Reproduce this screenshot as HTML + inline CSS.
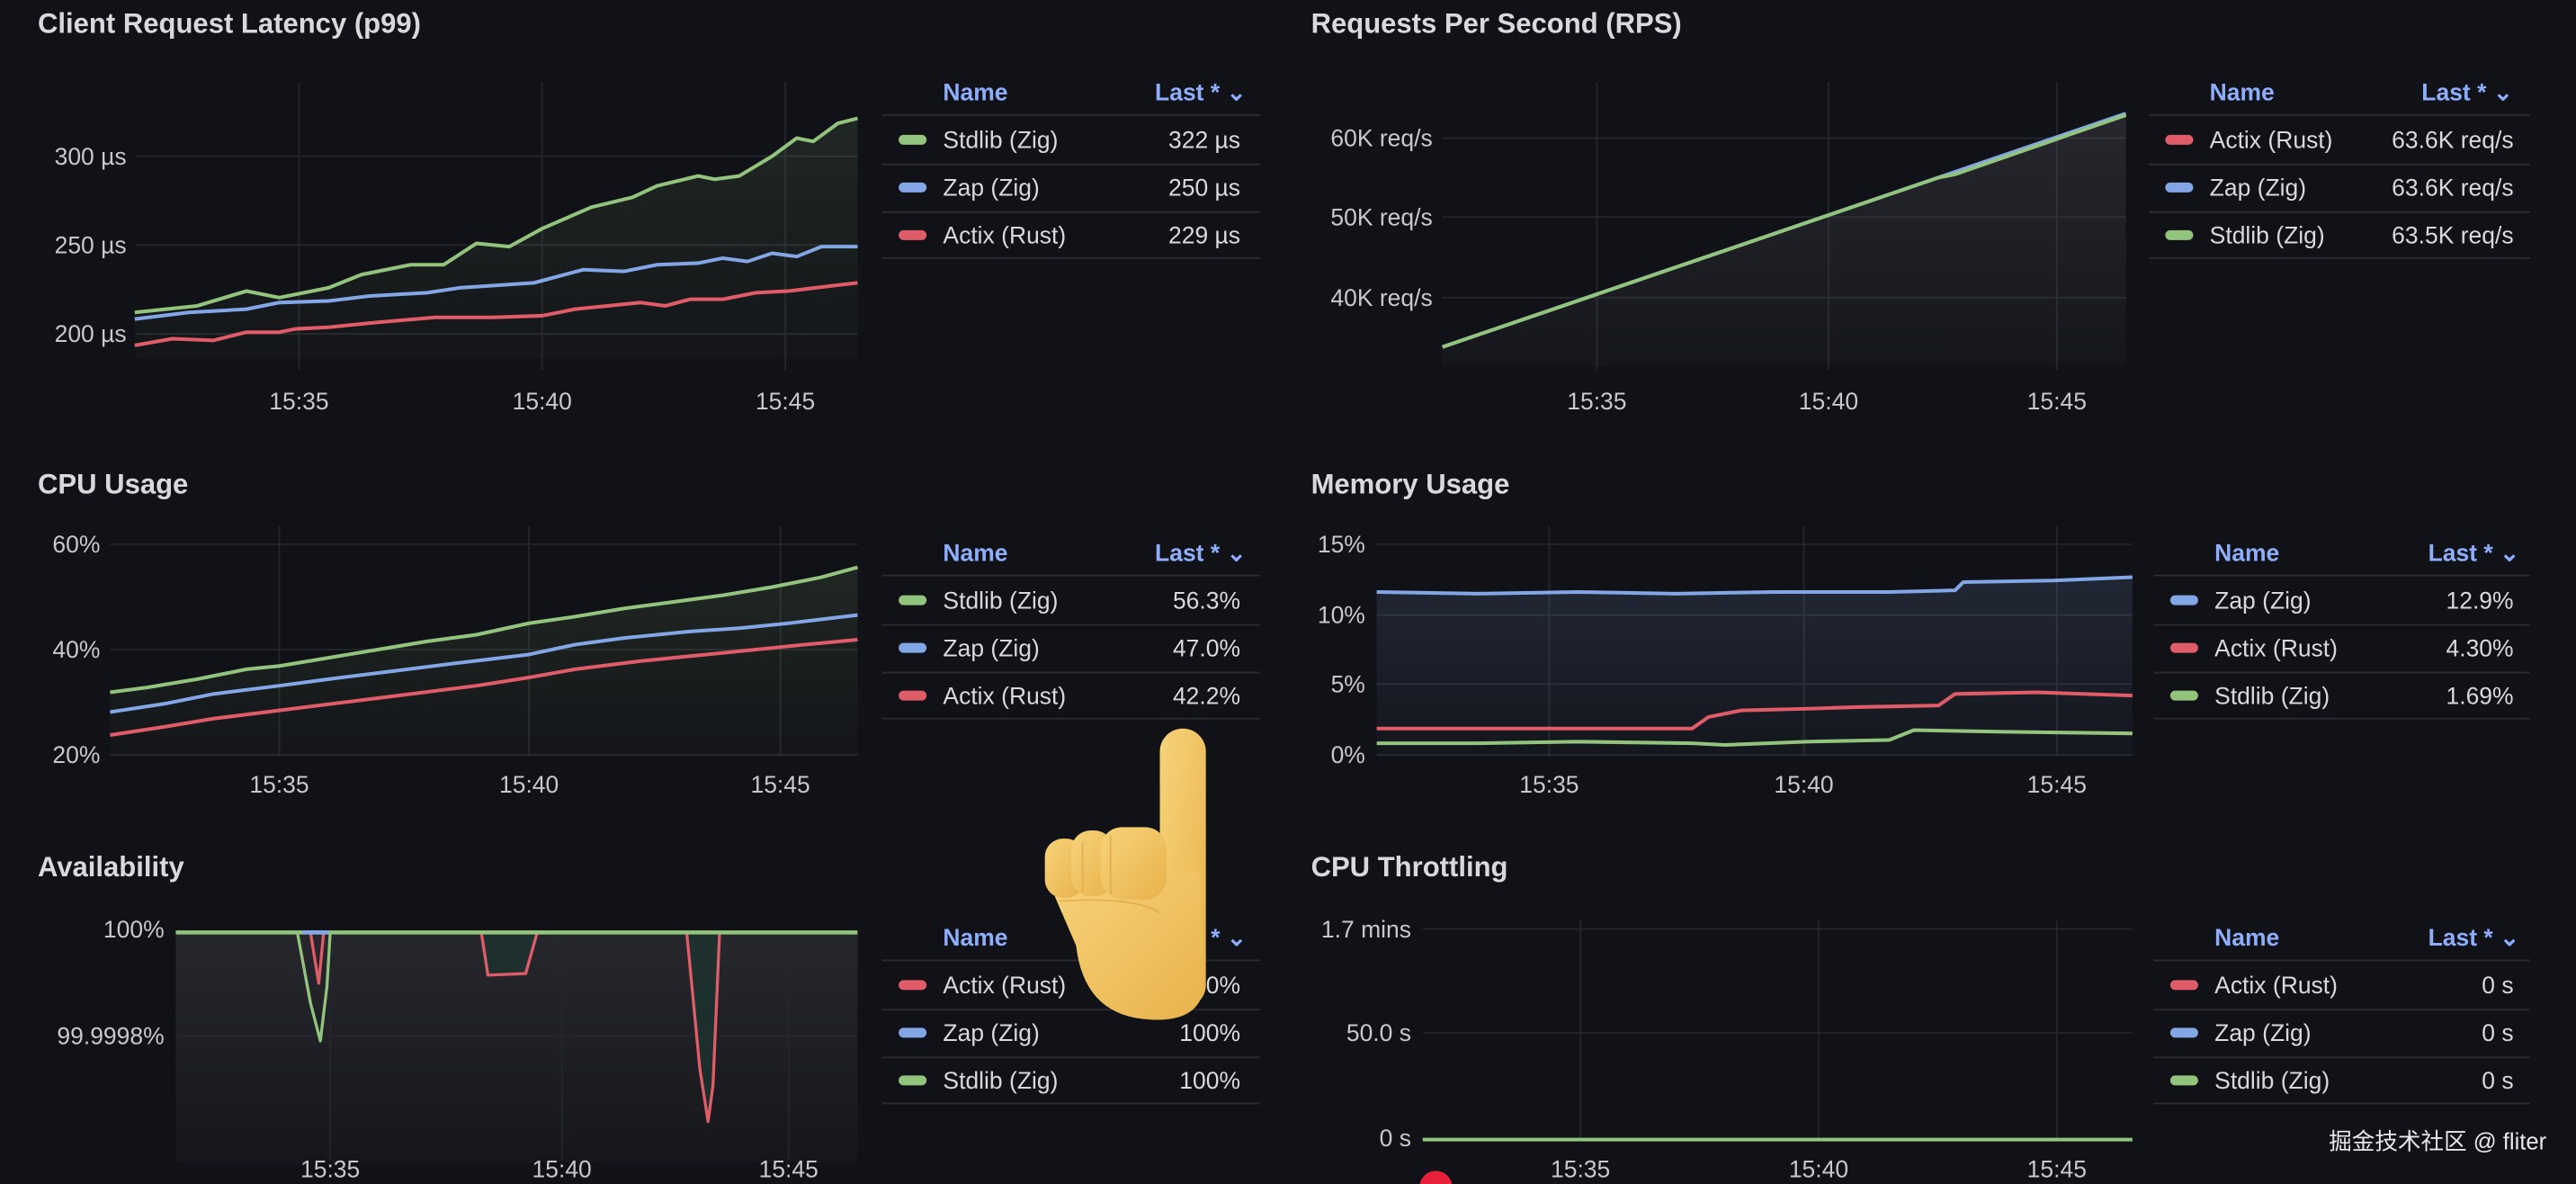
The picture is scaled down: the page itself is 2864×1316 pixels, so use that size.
<!DOCTYPE html>
<html><head><meta charset="utf-8"><style>
html,body{margin:0;padding:0;background:#111217;}
svg{display:block}
text{font-family:"Liberation Sans","Noto Sans CJK SC",sans-serif;}
.t{fill:#d8d9da;font-size:17px;font-weight:bold}
.ax{fill:#c7c8cc;font-size:14.5px}
.lg{fill:#d8d9da;font-size:14.5px}
.hd{fill:#8eaefc;font-size:14.5px;font-weight:bold}
.g{stroke:#24262d;stroke-width:1}
.sep{stroke:#2a2c33;stroke-width:1}
</style></head><body>
<svg width="2864" height="1316" viewBox="0 0 1568 720" preserveAspectRatio="none" xmlns="http://www.w3.org/2000/svg">
<defs>
<linearGradient id="fg" x1="0" y1="0" x2="0" y2="1"><stop offset="0" stop-color="#93c47d" stop-opacity="0.12"/><stop offset="1" stop-color="#93c47d" stop-opacity="0.02"/></linearGradient>
<linearGradient id="fgr" x1="0" y1="0" x2="0" y2="1"><stop offset="0" stop-color="#8a8a90" stop-opacity="0.18"/><stop offset="1" stop-color="#8a8a90" stop-opacity="0.04"/></linearGradient>
<linearGradient id="fb" x1="0" y1="0" x2="0" y2="1"><stop offset="0" stop-color="#82a6e6" stop-opacity="0.14"/><stop offset="1" stop-color="#82a6e6" stop-opacity="0.03"/></linearGradient>
<linearGradient id="hand" x1="0" y1="0" x2="1" y2="1"><stop offset="0" stop-color="#f7d37a"/><stop offset="1" stop-color="#e8b24a"/></linearGradient>
</defs>
<rect width="1568" height="720" fill="#111217"/>

<!-- Panel 1 -->
<text class="t" x="23" y="20">Client Request Latency (p99)</text>
<g class="g"><line x1="83" y1="95" x2="522" y2="95"/><line x1="83" y1="149" x2="522" y2="149"/><line x1="83" y1="203" x2="522" y2="203"/>
<line x1="182" y1="50" x2="182" y2="225"/><line x1="330" y1="50" x2="330" y2="225"/><line x1="478" y1="50" x2="478" y2="225"/></g>
<text class="ax" x="77" y="100" text-anchor="end">300 µs</text><text class="ax" x="77" y="154" text-anchor="end">250 µs</text><text class="ax" x="77" y="208" text-anchor="end">200 µs</text>
<text class="ax" x="182" y="249" text-anchor="middle">15:35</text><text class="ax" x="330" y="249" text-anchor="middle">15:40</text><text class="ax" x="478" y="249" text-anchor="middle">15:45</text>
<polygon fill="url(#fg)" points="82,190 120,186 150,177 170,181 200,175 220,167 250,161 270,161 290,148 310,150 330,139 360,126 385,120 400,113 425,107 435,109 450,107 470,95 485,84 495,86 510,75 522,72 522,218 82,218"/>
<g fill="none" stroke-width="2.2" stroke-linejoin="round">
<polyline stroke="#93c47d" points="82,190 120,186 150,177 170,181 200,175 220,167 250,161 270,161 290,148 310,150 330,139 360,126 385,120 400,113 425,107 435,109 450,107 470,95 485,84 495,86 510,75 522,72"/>
<polyline stroke="#82a6e6" points="82,194 115,190 150,188 170,184 200,183 225,180 260,178 280,175 325,172 355,164 380,165 400,161 425,160 440,157 455,159 470,154 485,156 500,150 522,150"/>
<polyline stroke="#e05c68" points="82,210 105,206 130,207 150,202 170,202 180,200 200,199 230,196 265,193 300,193 330,192 350,188 390,184 405,186 420,182 440,182 460,178 480,177 505,174 522,172"/>
</g>
<text class="hd" x="574" y="61">Name</text><text class="hd" x="703" y="61">Last * ⌄</text>
<g class="sep"><line x1="537" y1="70" x2="767" y2="70"/><line x1="537" y1="100" x2="767" y2="100"/><line x1="537" y1="129" x2="767" y2="129"/><line x1="537" y1="157" x2="767" y2="157"/></g>
<rect x="547" y="82" width="17" height="6" rx="3" fill="#93c47d"/><text class="lg" x="574" y="90">Stdlib (Zig)</text><text class="lg" x="755" y="90" text-anchor="end">322 µs</text>
<rect x="547" y="111" width="17" height="6" rx="3" fill="#82a6e6"/><text class="lg" x="574" y="119">Zap (Zig)</text><text class="lg" x="755" y="119" text-anchor="end">250 µs</text>
<rect x="547" y="140" width="17" height="6" rx="3" fill="#e05c68"/><text class="lg" x="574" y="148">Actix (Rust)</text><text class="lg" x="755" y="148" text-anchor="end">229 µs</text>

<!-- Panel 2 -->
<text class="t" x="798" y="20">Requests Per Second (RPS)</text>
<g class="g"><line x1="878" y1="84" x2="1294" y2="84"/><line x1="878" y1="132" x2="1294" y2="132"/><line x1="878" y1="181" x2="1294" y2="181"/>
<line x1="972" y1="50" x2="972" y2="225"/><line x1="1113" y1="50" x2="1113" y2="225"/><line x1="1252" y1="50" x2="1252" y2="225"/></g>
<text class="ax" x="872" y="89" text-anchor="end">60K req/s</text><text class="ax" x="872" y="137" text-anchor="end">50K req/s</text><text class="ax" x="872" y="186" text-anchor="end">40K req/s</text>
<text class="ax" x="972" y="249" text-anchor="middle">15:35</text><text class="ax" x="1113" y="249" text-anchor="middle">15:40</text><text class="ax" x="1252" y="249" text-anchor="middle">15:45</text>
<polygon fill="url(#fgr)" points="878,211 1294,69 1294,222 878,222"/>
<polyline fill="none" stroke="#82a6e6" stroke-width="2.2" points="878,211 1294,69"/>
<polyline fill="none" stroke="#93c47d" stroke-width="2.2" points="878,211 1180,108 1190,106 1294,70"/>
<text class="hd" x="1345" y="61">Name</text><text class="hd" x="1474" y="61">Last * ⌄</text>
<g class="sep"><line x1="1308" y1="70" x2="1540" y2="70"/><line x1="1308" y1="100" x2="1540" y2="100"/><line x1="1308" y1="129" x2="1540" y2="129"/><line x1="1308" y1="157" x2="1540" y2="157"/></g>
<rect x="1318" y="82" width="17" height="6" rx="3" fill="#e05c68"/><text class="lg" x="1345" y="90">Actix (Rust)</text><text class="lg" x="1530" y="90" text-anchor="end">63.6K req/s</text>
<rect x="1318" y="111" width="17" height="6" rx="3" fill="#82a6e6"/><text class="lg" x="1345" y="119">Zap (Zig)</text><text class="lg" x="1530" y="119" text-anchor="end">63.6K req/s</text>
<rect x="1318" y="140" width="17" height="6" rx="3" fill="#93c47d"/><text class="lg" x="1345" y="148">Stdlib (Zig)</text><text class="lg" x="1530" y="148" text-anchor="end">63.5K req/s</text>

<!-- Panel 3 CPU -->
<text class="t" x="23" y="300">CPU Usage</text>
<g class="g"><line x1="67" y1="331" x2="522" y2="331"/><line x1="67" y1="395" x2="522" y2="395"/><line x1="67" y1="459" x2="522" y2="459"/>
<line x1="170" y1="320" x2="170" y2="460"/><line x1="322" y1="320" x2="322" y2="460"/><line x1="475" y1="320" x2="475" y2="460"/></g>
<text class="ax" x="61" y="336" text-anchor="end">60%</text><text class="ax" x="61" y="400" text-anchor="end">40%</text><text class="ax" x="61" y="464" text-anchor="end">20%</text>
<text class="ax" x="170" y="482" text-anchor="middle">15:35</text><text class="ax" x="322" y="482" text-anchor="middle">15:40</text><text class="ax" x="475" y="482" text-anchor="middle">15:45</text>
<polygon fill="url(#fg)" points="67,421 90,418 120,413 150,407 170,405 200,400 230,395 260,390 290,386 322,379 350,375 380,370 410,366 440,362 470,357 500,351 522,345 522,460 67,460"/>
<g fill="none" stroke-width="2.2" stroke-linejoin="round">
<polyline stroke="#93c47d" points="67,421 90,418 120,413 150,407 170,405 200,400 230,395 260,390 290,386 322,379 350,375 380,370 410,366 440,362 470,357 500,351 522,345"/>
<polyline stroke="#82a6e6" points="67,433 100,428 130,422 170,417 200,413 240,408 280,403 322,398 350,392 380,388 420,384 450,382 480,379 522,374"/>
<polyline stroke="#e05c68" points="67,447 100,442 130,437 170,432 210,427 250,422 290,417 322,412 350,407 390,402 430,398 460,395 490,392 522,389"/>
</g>
<text class="hd" x="574" y="341">Name</text><text class="hd" x="703" y="341">Last * ⌄</text>
<g class="sep"><line x1="537" y1="350" x2="767" y2="350"/><line x1="537" y1="380" x2="767" y2="380"/><line x1="537" y1="409" x2="767" y2="409"/><line x1="537" y1="437" x2="767" y2="437"/></g>
<rect x="547" y="362" width="17" height="6" rx="3" fill="#93c47d"/><text class="lg" x="574" y="370">Stdlib (Zig)</text><text class="lg" x="755" y="370" text-anchor="end">56.3%</text>
<rect x="547" y="391" width="17" height="6" rx="3" fill="#82a6e6"/><text class="lg" x="574" y="399">Zap (Zig)</text><text class="lg" x="755" y="399" text-anchor="end">47.0%</text>
<rect x="547" y="420" width="17" height="6" rx="3" fill="#e05c68"/><text class="lg" x="574" y="428">Actix (Rust)</text><text class="lg" x="755" y="428" text-anchor="end">42.2%</text>

<!-- Panel 4 Memory -->
<text class="t" x="798" y="300">Memory Usage</text>
<g class="g"><line x1="838" y1="331" x2="1298" y2="331"/><line x1="838" y1="374" x2="1298" y2="374"/><line x1="838" y1="416" x2="1298" y2="416"/><line x1="838" y1="459" x2="1298" y2="459"/>
<line x1="943" y1="320" x2="943" y2="460"/><line x1="1098" y1="320" x2="1098" y2="460"/><line x1="1252" y1="320" x2="1252" y2="460"/></g>
<text class="ax" x="831" y="336" text-anchor="end">15%</text><text class="ax" x="831" y="379" text-anchor="end">10%</text><text class="ax" x="831" y="421" text-anchor="end">5%</text><text class="ax" x="831" y="464" text-anchor="end">0%</text>
<text class="ax" x="943" y="482" text-anchor="middle">15:35</text><text class="ax" x="1098" y="482" text-anchor="middle">15:40</text><text class="ax" x="1252" y="482" text-anchor="middle">15:45</text>
<polygon fill="url(#fb)" points="838,360 900,361 960,360 1020,361 1080,360 1150,360 1190,359 1195,354 1250,353 1298,351 1298,460 838,460"/>
<g fill="none" stroke-width="2.2" stroke-linejoin="round">
<polyline stroke="#82a6e6" points="838,360 900,361 960,360 1020,361 1080,360 1150,360 1190,359 1195,354 1250,353 1298,351"/>
<polyline stroke="#e05c68" points="838,443 920,443 1030,443 1040,436 1060,432 1100,431 1130,430 1180,429 1190,422 1240,421 1298,423"/>
<polyline stroke="#93c47d" points="838,452 900,452 960,451 1030,452 1050,453 1100,451 1150,450 1165,444 1220,445 1298,446"/>
</g>
<text class="hd" x="1348" y="341">Name</text><text class="hd" x="1478" y="341">Last * ⌄</text>
<g class="sep"><line x1="1311" y1="350" x2="1540" y2="350"/><line x1="1311" y1="380" x2="1540" y2="380"/><line x1="1311" y1="409" x2="1540" y2="409"/><line x1="1311" y1="437" x2="1540" y2="437"/></g>
<rect x="1321" y="362" width="17" height="6" rx="3" fill="#82a6e6"/><text class="lg" x="1348" y="370">Zap (Zig)</text><text class="lg" x="1530" y="370" text-anchor="end">12.9%</text>
<rect x="1321" y="391" width="17" height="6" rx="3" fill="#e05c68"/><text class="lg" x="1348" y="399">Actix (Rust)</text><text class="lg" x="1530" y="399" text-anchor="end">4.30%</text>
<rect x="1321" y="420" width="17" height="6" rx="3" fill="#93c47d"/><text class="lg" x="1348" y="428">Stdlib (Zig)</text><text class="lg" x="1530" y="428" text-anchor="end">1.69%</text>

<!-- Panel 5 Availability -->
<text class="t" x="23" y="533">Availability</text>
<rect x="107" y="567" width="415" height="140" fill="url(#fgr)"/>
<g class="g"><line x1="107" y1="630" x2="522" y2="630"/>
<line x1="201" y1="567" x2="201" y2="705"/><line x1="342" y1="567" x2="342" y2="705"/><line x1="480" y1="567" x2="480" y2="705"/></g>
<text class="ax" x="100" y="570" text-anchor="end">100%</text><text class="ax" x="100" y="635" text-anchor="end">99.9998%</text>
<text class="ax" x="201" y="716" text-anchor="middle">15:35</text><text class="ax" x="342" y="716" text-anchor="middle">15:40</text><text class="ax" x="480" y="716" text-anchor="middle">15:45</text>
<polygon fill="#1b3330" opacity="0.8" points="293,567 297,593 320,592 327,567"/>
<polygon fill="#1b3330" opacity="0.8" points="418,567 428,660 431,682 434,660 438,567"/>
<g fill="none" stroke-width="1.8" stroke-linejoin="round">
<polyline stroke="#e05c68" points="189,567 194,598 197,567"/>
<polyline stroke="#e05c68" points="293,567 297,593 320,592 327,567"/>
<polyline stroke="#e05c68" points="418,567 426,650 431,682 434,660 438,567"/>
<polyline stroke="#93c47d" points="181,567 189,610 195,633 199,600 201,567"/>
</g>
<line x1="107" y1="567" x2="522" y2="567" stroke="#93c47d" stroke-width="2.5"/>
<line x1="184" y1="567" x2="200" y2="567" stroke="#82a6e6" stroke-width="2.5"/>
<text class="hd" x="574" y="575">Name</text><text class="hd" x="737" y="575">* ⌄</text>
<g class="sep"><line x1="537" y1="584" x2="767" y2="584"/><line x1="537" y1="614" x2="767" y2="614"/><line x1="537" y1="643" x2="767" y2="643"/><line x1="537" y1="671" x2="767" y2="671"/></g>
<rect x="547" y="596" width="17" height="6" rx="3" fill="#e05c68"/><text class="lg" x="574" y="604">Actix (Rust)</text><text class="lg" x="755" y="604" text-anchor="end">100%</text>
<rect x="547" y="625" width="17" height="6" rx="3" fill="#82a6e6"/><text class="lg" x="574" y="633">Zap (Zig)</text><text class="lg" x="755" y="633" text-anchor="end">100%</text>
<rect x="547" y="654" width="17" height="6" rx="3" fill="#93c47d"/><text class="lg" x="574" y="662">Stdlib (Zig)</text><text class="lg" x="755" y="662" text-anchor="end">100%</text>

<!-- Panel 6 CPU Throttling -->
<text class="t" x="798" y="533">CPU Throttling</text>
<g class="g"><line x1="866" y1="565" x2="1298" y2="565"/><line x1="866" y1="628" x2="1298" y2="628"/>
<line x1="962" y1="560" x2="962" y2="693"/><line x1="1107" y1="560" x2="1107" y2="693"/><line x1="1252" y1="560" x2="1252" y2="693"/></g>
<text class="ax" x="859" y="570" text-anchor="end">1.7 mins</text><text class="ax" x="859" y="633" text-anchor="end">50.0 s</text><text class="ax" x="859" y="697" text-anchor="end">0 s</text>
<text class="ax" x="962" y="716" text-anchor="middle">15:35</text><text class="ax" x="1107" y="716" text-anchor="middle">15:40</text><text class="ax" x="1252" y="716" text-anchor="middle">15:45</text>
<line x1="866" y1="693" x2="1298" y2="693" stroke="#93c47d" stroke-width="2.2"/>
<text class="hd" x="1348" y="575">Name</text><text class="hd" x="1478" y="575">Last * ⌄</text>
<g class="sep"><line x1="1311" y1="584" x2="1540" y2="584"/><line x1="1311" y1="614" x2="1540" y2="614"/><line x1="1311" y1="643" x2="1540" y2="643"/><line x1="1311" y1="671" x2="1540" y2="671"/></g>
<rect x="1321" y="596" width="17" height="6" rx="3" fill="#e05c68"/><text class="lg" x="1348" y="604">Actix (Rust)</text><text class="lg" x="1530" y="604" text-anchor="end">0 s</text>
<rect x="1321" y="625" width="17" height="6" rx="3" fill="#82a6e6"/><text class="lg" x="1348" y="633">Zap (Zig)</text><text class="lg" x="1530" y="633" text-anchor="end">0 s</text>
<rect x="1321" y="654" width="17" height="6" rx="3" fill="#93c47d"/><text class="lg" x="1348" y="662">Stdlib (Zig)</text><text class="lg" x="1530" y="662" text-anchor="end">0 s</text>

<text x="1550" y="699" text-anchor="end" style="font-size:14px;fill:#e8e8e8">掘金技术社区 @ fliter</text>
<circle cx="874" cy="722" r="10" fill="#e8203a"/>

<!-- hand -->
<g fill="url(#hand)">
<rect x="706" y="443" width="28" height="170" rx="14"/>
<path d="M642,545 Q640,532 660,530 L730,530 L733,600 Q730,622 700,620 Q660,618 655,575 Z"/>
<rect x="636" y="510" width="24" height="36" rx="11"/>
<rect x="652" y="505" width="26" height="40" rx="12"/>
<rect x="670" y="503" width="40" height="44" rx="13"/>
</g>
<g fill="none" stroke="#d9a03e" stroke-width="1" opacity="0.6">
<path d="M659,512 L659,543"/><path d="M676,508 L676,544"/><path d="M645,548 Q690,545 706,555"/>
</g>
</svg>
</body></html>
